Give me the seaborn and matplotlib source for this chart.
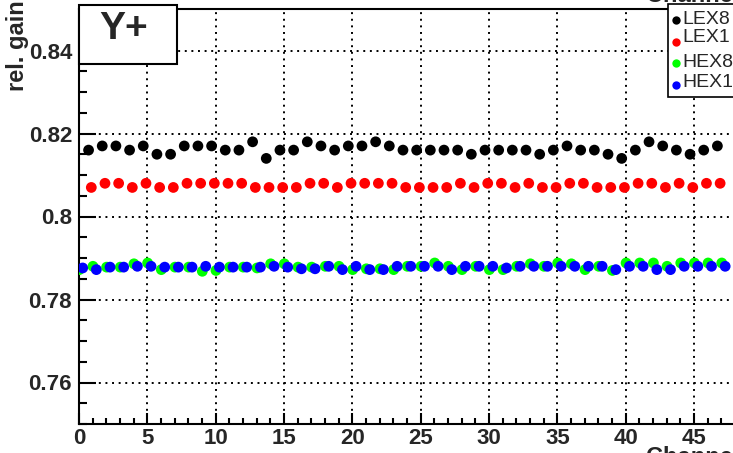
import matplotlib
matplotlib.use("Agg")
import matplotlib.pyplot as plt
import seaborn as sns
import pandas as pd
from matplotlib.lines import Line2D
from matplotlib.patches import Rectangle
from matplotlib.ticker import MultipleLocator

# ---------------- data ----------------
lex_channels = list(range(1, 48))
hex_channels = list(range(0, 48))

lex8 = [0.816, 0.817, 0.817, 0.816, 0.817, 0.815, 0.815, 0.817, 0.817, 0.817,
        0.816, 0.816, 0.818, 0.814, 0.816, 0.816, 0.818, 0.817, 0.816, 0.817,
        0.817, 0.818, 0.817, 0.816, 0.816, 0.816, 0.816, 0.816, 0.815, 0.816,
        0.816, 0.816, 0.816, 0.815, 0.816, 0.817, 0.816, 0.816, 0.815, 0.814,
        0.816, 0.818, 0.817, 0.816, 0.815, 0.816, 0.817]
lex1 = [0.807, 0.808, 0.808, 0.807, 0.808, 0.807, 0.807, 0.808, 0.808, 0.808,
        0.808, 0.808, 0.807, 0.807, 0.807, 0.807, 0.808, 0.808, 0.807, 0.808,
        0.808, 0.808, 0.808, 0.807, 0.807, 0.807, 0.807, 0.808, 0.807, 0.808,
        0.808, 0.807, 0.808, 0.807, 0.807, 0.808, 0.808, 0.807, 0.807, 0.807,
        0.808, 0.808, 0.807, 0.808, 0.807, 0.808, 0.808]
hex8 = [0.7872, 0.7880, 0.7878, 0.7878, 0.7886, 0.7888, 0.7872, 0.7878, 0.7878, 0.7868,
        0.7870, 0.7878, 0.7878, 0.7876, 0.7886, 0.7886, 0.7878, 0.7878, 0.7880, 0.7880,
        0.7872, 0.7874, 0.7874, 0.7872, 0.7880, 0.7880, 0.7888, 0.7880, 0.7872, 0.7880,
        0.7872, 0.7872, 0.7880, 0.7886, 0.7880, 0.7888, 0.7886, 0.7872, 0.7880, 0.7870,
        0.7888, 0.7888, 0.7888, 0.7880, 0.7888, 0.7888, 0.7888, 0.7888]
hex1 = [0.7876, 0.7872, 0.7878, 0.7878, 0.7880, 0.7880, 0.7878, 0.7878, 0.7878, 0.7880,
        0.7878, 0.7878, 0.7878, 0.7878, 0.7880, 0.7878, 0.7874, 0.7874, 0.7880, 0.7872,
        0.7880, 0.7872, 0.7872, 0.7880, 0.7880, 0.7880, 0.7880, 0.7872, 0.7880, 0.7880,
        0.7880, 0.7876, 0.7880, 0.7880, 0.7880, 0.7880, 0.7880, 0.7880, 0.7880, 0.7872,
        0.7880, 0.7880, 0.7872, 0.7872, 0.7880, 0.7880, 0.7880, 0.7880]

series_names = ["LEX8", "LEX1", "HEX8", "HEX1"]
series_colors = ["#000000", "#ff0000", "#00ff00", "#0000ff"]
series_shift = [-0.3, -0.1, 0.02, 0.27]
series_channels = [lex_channels, lex_channels, hex_channels, hex_channels]
series_values = [lex8, lex1, hex8, hex1]

x_ticks = [0, 5, 10, 15, 20, 25, 30, 35, 40, 45]
y_ticks = [0.76, 0.78, 0.80, 0.82, 0.84]
y_ticklabels = ["0.76", "0.78", "0.8", "0.82", "0.84"]

rows = []
for name, chans, vals, sh in zip(series_names, series_channels, series_values, series_shift):
    for c, v in zip(chans, vals):
        rows.append({"series": name, "x": c + sh, "gain": v})
df = pd.DataFrame(rows)

# ---------------- style ----------------
sns.set_style("white")
plt.rcParams["font.family"] = ["Liberation Sans", "DejaVu Sans"]

W, H = 733, 453
fig = plt.figure(figsize=(W / 100, H / 100), dpi=100)

def fx(px):
    return px / W

def fy(py):
    return 1 - py / H

x0, x1 = 0, 48
y0, y1 = 0.75, 0.85
ax_left, ax_bottom_px = 79, 424
ax_w_px = 48 * 13.67
ax_h_px = 415
ax = fig.add_axes([fx(ax_left), (H - ax_bottom_px) / H, ax_w_px / W, ax_h_px / H])

sns.scatterplot(data=df, x="x", y="gain", hue="series", hue_order=series_names,
                palette=dict(zip(series_names, series_colors)), s=60,
                edgecolor="none", linewidth=0, legend=False, ax=ax, zorder=3)

ax.set_xlim(x0, x1)
ax.set_ylim(y0, y1)
ax.set_xlabel("")
ax.set_ylabel("")

ax.set_xticks(x_ticks)
ax.set_xticklabels([str(t) for t in x_ticks])
ax.set_yticks(y_ticks)
ax.set_yticklabels(y_ticklabels)
ax.xaxis.set_minor_locator(MultipleLocator(1))
ax.yaxis.set_minor_locator(MultipleLocator(0.005))

for lab in ax.get_xticklabels() + ax.get_yticklabels():
    lab.set_fontweight("bold")
    lab.set_fontsize(16)

ax.tick_params(axis="x", which="major", direction="in", length=8, width=1.5,
               color="black", pad=3, bottom=True, top=False)
ax.tick_params(axis="x", which="minor", direction="in", length=4.5, width=1.5,
               color="black", bottom=True, top=False)
ax.tick_params(axis="y", which="major", direction="in", length=12, width=1.5,
               color="black", pad=5, left=True, right=False)
ax.tick_params(axis="y", which="minor", direction="in", length=6, width=1.5,
               color="black", left=True, right=False)

ax.grid(True, which="major", color="black", linestyle=(0, (1, 2.4)), linewidth=1.4)
ax.set_axisbelow(True)

for side in ["left", "bottom", "top", "right"]:
    ax.spines[side].set_color("black")
    ax.spines[side].set_linewidth(1.5)

# y label (partly cut at the top edge, as in the reference)
fig.text(fx(18), fy(91), "rel. gain", rotation=90, ha="center", va="bottom",
         fontsize=17, fontweight="bold")

# partially visible axis titles (cut by canvas edges)
fig.text(fx(646), fy(446), "Channel", ha="left", va="top", fontsize=17, fontweight="bold")
fig.text(fx(646), fy(2), "Channel", ha="left", va="baseline", fontsize=17, fontweight="bold")

# Y+ box
fig.patches.append(Rectangle((fx(79), fy(64)), fx(177) - fx(79), fy(5) - fy(64),
                             transform=fig.transFigure, facecolor="white",
                             edgecolor="black", linewidth=1.5, zorder=10))
fig.text(fx(124), fy(29), "Y+", ha="center", va="center", fontsize=28,
         fontweight="bold", zorder=11)

# legend box
fig.patches.append(Rectangle((fx(668), fy(97)), fx(760) - fx(668), fy(4) - fy(97),
                             transform=fig.transFigure, facecolor="white",
                             edgecolor="black", linewidth=1.2, zorder=10))
leg_marker_y = [20, 41.5, 63, 85]
leg_text_y = [20, 37.5, 62.5, 82.5]
for name, col, my, ty in zip(series_names, series_colors, leg_marker_y, leg_text_y):
    fig.add_artist(Line2D([fx(676)], [fy(my)], marker="o", markersize=6,
                          markerfacecolor=col, markeredgecolor="none",
                          linestyle="none", transform=fig.transFigure, zorder=11))
    fig.text(fx(682), fy(ty), name, ha="left", va="center", fontsize=14, zorder=11)

fig.savefig("out.png", dpi=100)
